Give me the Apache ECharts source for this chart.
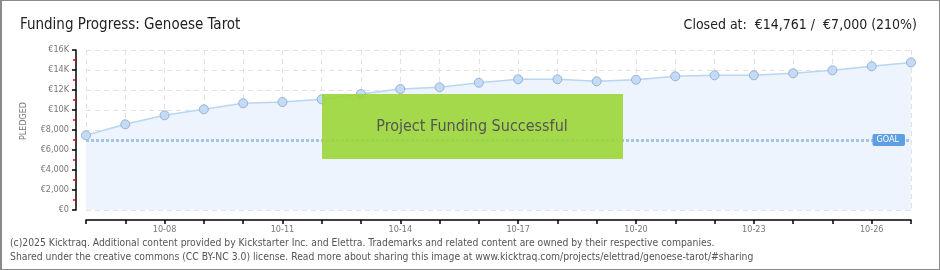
<!DOCTYPE html>
<html><head><meta charset="utf-8">
<script src="https://cdn.jsdelivr.net/npm/echarts@6/dist/echarts.min.js"></script>
<style>
html,body{margin:0;padding:0;background:#fff;}
#c{width:940px;height:270px;box-sizing:border-box;border:1px solid #8a8a8a;border-left-width:2px;}
</style></head><body>
<div id="c"></div>
<script>
const categories = ['10-06','10-07','10-08','10-09','10-10','10-11','10-12','10-13','10-14','10-15','10-16','10-17','10-18','10-19','10-20','10-21','10-22','10-23','10-24','10-25','10-26','10-27'];
const pledged = [7470, 8570, 9470, 10070, 10670, 10800, 11070, 11600, 12100, 12270, 12730, 13070, 13070, 12870, 13030, 13370, 13470, 13470, 13670, 13970, 14370, 14761];
const goal = 7000;
const yTickLabels = {0:'€0',2000:'€2,000',4000:'€4,000',6000:'€6,000',8000:'€8,000',10000:'€10K',12000:'€12K',14000:'€14K',16000:'€16K'};
const titleText = 'Funding Progress: Genoese Tarot';
const closedText = 'Closed at:  €14,761 /  €7,000 (210%)';
const footer1 = '(c)2025 Kicktraq. Additional content provided by Kickstarter Inc. and Elettra. Trademarks and related content are owned by their respective companies.';
const footer2 = 'Shared under the creative commons (CC BY-NC 3.0) license. Read more about sharing this image at www.kicktraq.com/projects/elettrad/genoese-tarot/#sharing';

const FONT = '"DejaVu Sans Condensed","Roboto",sans-serif';
const chart = echarts.init(document.getElementById('c'), null, {renderer:'canvas'});
chart.setOption({
  animation:false,
  textStyle:{fontFamily:FONT},
  grid:{left:84,right:28,top:49,bottom:59,outerBoundsMode:'none',containLabel:false},
  title:[
    {text:titleText,left:13,top:12,textStyle:{fontFamily:FONT,fontSize:15,fontWeight:'normal',color:'#222'}},
    {text:closedText,right:17,top:12,textStyle:{fontFamily:FONT,fontSize:14,fontWeight:'normal',color:'#222'}}
  ],
  xAxis:{
    type:'category',data:categories,boundaryGap:false,offset:10,
    axisLine:{onZero:false,lineStyle:{color:'#000',width:1.5}},
    axisTick:{show:true,interval:0,length:4,lineStyle:{color:'#000',width:1.5}},
    axisLabel:{interval:(i)=> (i-2)%3===0 && i>=2, color:'#777',fontSize:9,margin:5,fontFamily:'"DejaVu Sans Condensed",sans-serif'},
    splitLine:{show:true,interval:0,lineStyle:{color:'#e2e2e2',type:[5,4],width:1}}
  },
  yAxis:{
    type:'value',min:0,max:16000,interval:2000,offset:10,
    name:'PLEDGED',nameLocation:'middle',nameGap:48,nameRotate:90,
    nameTextStyle:{color:'#777',fontSize:8,fontFamily:'"DejaVu Sans",sans-serif',padding:[0,0,0,18]},
    axisLine:{show:true,lineStyle:{color:'#000',width:1.5}},
    axisTick:{show:true,length:4,lineStyle:{color:'#000',width:1.5}},
    minorTick:{show:true,splitNumber:2,length:3,lineStyle:{color:'#e00',width:1.5}},
    axisLabel:{formatter:(v)=>yTickLabels[v]||'',color:'#777',fontSize:9,margin:7,fontFamily:'"DejaVu Sans Condensed",sans-serif'},
    splitLine:{show:true,lineStyle:{color:'#e2e2e2',type:[5,4],width:1}}
  },
  series:[{
    type:'line',data:pledged,symbol:'circle',symbolSize:9,
    lineStyle:{color:'#b8d5f2',width:1.5},
    itemStyle:{color:'#c3dbf6',borderColor:'#9bb2cf',borderWidth:1},
    areaStyle:{color:'#edf4fd',opacity:1},
    z:3,
    markLine:{
      silent:true,symbol:'none',
      lineStyle:{color:'#a3c4ea',type:[3,2],width:3},
      label:{show:true,position:'insideEnd',formatter:'GOAL',color:'#fff',backgroundColor:'#5e9fe2',
        borderRadius:2,padding:[2,6,1,4],fontSize:9,fontFamily:'"DejaVu Sans Condensed",sans-serif',distance:[6,-7]},
      data:[{yAxis:goal}]
    }
  }],
  graphic:[
    {type:'rect',z:100,shape:{x:320,y:93,width:301,height:65},style:{fill:'rgba(155,214,55,0.9)'}},
    {type:'text',z:101,x:470,y:126,style:{text:'Project Funding Successful',fill:'#555',font:'16px '+FONT,align:'center',verticalAlign:'middle',textShadowColor:'#fff',textShadowOffsetX:1,textShadowOffsetY:1,textShadowBlur:0}},
    {type:'text',z:101,x:8,y:237,style:{text:footer1,fill:'#555',font:'10.3px "DejaVu Sans Condensed",sans-serif'}},
    {type:'text',z:101,x:8,y:251,style:{text:footer2,fill:'#555',font:'10.3px "DejaVu Sans Condensed",sans-serif'}}
  ]
});
</script></body></html>
